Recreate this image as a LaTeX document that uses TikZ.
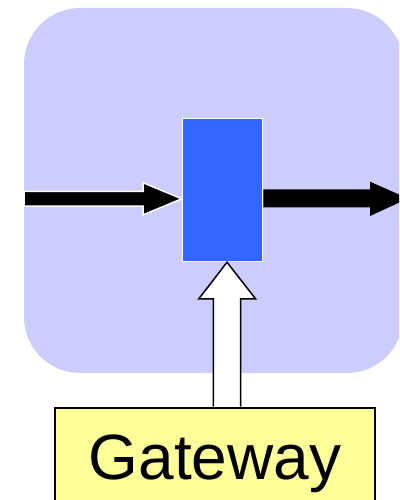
\documentclass[tikz,border=0pt]{standalone}
\usepackage{fontspec}
\setmainfont{Liberation Sans}
\usetikzlibrary{calc}
\definecolor{panel}{HTML}{CCCCFF}
\definecolor{procblue}{HTML}{3366FF}
\definecolor{gwyellow}{HTML}{FFFF99}
\tikzset{
  panelbox/.style={fill=panel, rounded corners=56pt},
  procbox/.style={draw=white, line width=1.5pt, fill=procblue, minimum width=80pt, minimum height=143pt, inner sep=0pt},
  gwbox/.style={draw=black, line width=2pt, fill=gwyellow, minimum width=320pt, minimum height=113pt, inner sep=0pt, font=\fontsize{64}{70}\selectfont},
  inarrow/.style={fill=black, draw=white, line width=1.5pt, line join=miter},
  outarrow/.style={fill=black},
  uparrow/.style={fill=white, draw=black, line width=1.5pt, line join=miter},
}
\begin{document}
\begin{tikzpicture}[x=1pt,y=1pt]
\useasboundingbox (0,0) rectangle (399,500);
\clip (0,0) rectangle (399,500);
% rounded panel behind the process block
\fill[panelbox] (24,127) rectangle (403,492);
% process block and gateway
\node[procbox] (p) at (222.5,310) {};
\node[gwbox, anchor=north] (gw) at (215,93.3) {Gateway};
\coordinate (in) at (24,301.2);
\coordinate (out) at (408,301.5);
% incoming arrow from the left edge of the panel
\filldraw[inarrow] (in |- 0,308.5) -- (143,308.5) -- (143,317.3) -- (p.west |- in)
  -- (143,285.1) -- (143,293.9) -- (in |- 0,293.9) -- cycle;
% outgoing arrow to the right
\fill[outarrow] (p.east |- 0,310.5) -- (370,310.5) -- (370,318.3) -- (out)
  -- (370,284) -- (370,292.6) -- (p.east |- 0,292.6) -- cycle;
% hollow arrow from the gateway up to the block
\filldraw[uparrow] (213.3,0 |- gw.north) -- (213.3,201) -- (198.7,201) -- (227,0 |- p.south)
  -- (255.7,201) -- (240.7,201) -- (240.7,0 |- gw.north);
\end{tikzpicture}
\end{document}
